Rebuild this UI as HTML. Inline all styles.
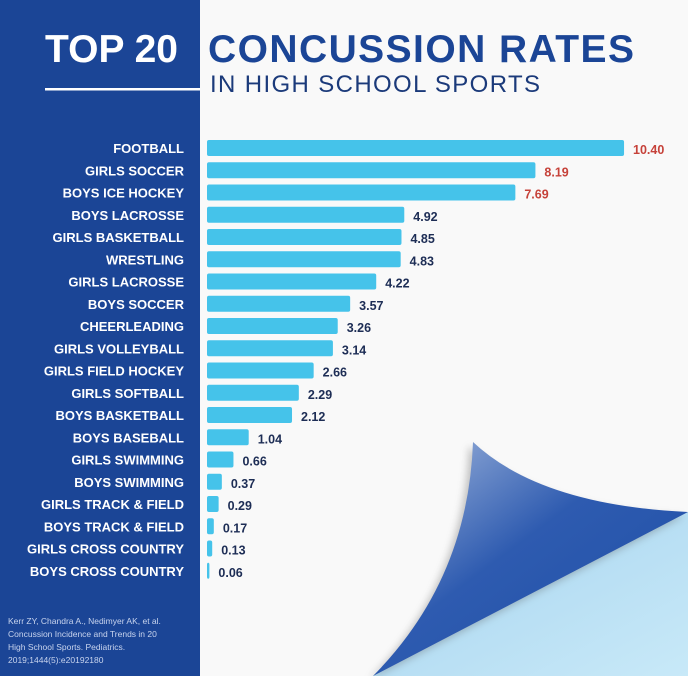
<!DOCTYPE html>
<html><head><meta charset="utf-8"><style>
html,body{margin:0;padding:0;background:#fff}
svg{display:block}
text{font-family:"Liberation Sans",sans-serif}
</style></head><body>
<svg id="chart" width="688" height="676" viewBox="0 0 688 676">
<defs>
<linearGradient id="curlG" x1="0" y1="0" x2="1" y2="1">
<stop offset="0" stop-color="#a9bde0"/><stop offset="0.45" stop-color="#2e5bb0"/><stop offset="1" stop-color="#1d4ea6"/></linearGradient>
<linearGradient id="underG" x1="0" y1="0" x2="1" y2="1">
<stop offset="0" stop-color="#7fb6dc"/><stop offset="0.5" stop-color="#b7def3"/><stop offset="1" stop-color="#c8e9f8"/></linearGradient>
<filter id="sh" x="-20%" y="-20%" width="140%" height="140%"><feGaussianBlur stdDeviation="4"/></filter>
</defs>
<rect x="0" y="0" width="688" height="676" fill="#f9f9f9"/>
<rect x="0" y="0" width="200" height="676" fill="#1b4596"/>
<rect x="45" y="88" width="155" height="2.5" fill="#fff"/>
<text x="45" y="62" font-size="39" font-weight="bold" fill="#fff">TOP 20</text>
<text x="208" y="62" font-size="39" font-weight="bold" fill="#1b4596" textLength="426">CONCUSSION RATES</text>
<text x="210" y="92" font-size="24" fill="#1b3a7a" textLength="330">IN HIGH SCHOOL SPORTS</text>
<g>
<path d="M373,676 L688,512 L688,676 Z" fill="url(#underG)"/>
<path d="M473,442 Q468,580 373,676 L688,512 Q540,505 473,442 Z" fill="#555" opacity="0.35" filter="url(#sh)" transform="translate(-4,4)"/>
<path d="M473,442 Q468,580 373,676 L688,512 Q540,505 473,442 Z" fill="url(#curlG)"/>
</g>
<g id="bars"></g>
<text x="8" y="624" font-size="8.5" fill="#c8d4ee">Kerr ZY, Chandra A., Nedimyer AK, et al.</text>
<text x="8" y="637" font-size="8.5" fill="#c8d4ee">Concussion Incidence and Trends in 20</text>
<text x="8" y="650" font-size="8.5" fill="#c8d4ee">High School Sports. Pediatrics.</text>
<text x="8" y="663" font-size="8.5" fill="#c8d4ee">2019;1444(5):e20192180</text>
</svg>
<script>
const categories=["FOOTBALL","GIRLS SOCCER","BOYS ICE HOCKEY","BOYS LACROSSE","GIRLS BASKETBALL","WRESTLING","GIRLS LACROSSE","BOYS SOCCER","CHEERLEADING","GIRLS VOLLEYBALL","GIRLS FIELD HOCKEY","GIRLS SOFTBALL","BOYS BASKETBALL","BOYS BASEBALL","GIRLS SWIMMING","BOYS SWIMMING","GIRLS TRACK & FIELD","BOYS TRACK & FIELD","GIRLS CROSS COUNTRY","BOYS CROSS COUNTRY"];
const values=[10.40,8.19,7.69,4.92,4.85,4.83,4.22,3.57,3.26,3.14,2.66,2.29,2.12,1.04,0.66,0.37,0.29,0.17,0.13,0.06];
const valueLabels=["10.40","8.19","7.69","4.92","4.85","4.83","4.22","3.57","3.26","3.14","2.66","2.29","2.12","1.04","0.66","0.37","0.29","0.17","0.13","0.06"];
const x0=207, pxPerUnit=40.1;
function xs(v){return x0+v*pxPerUnit;}
function ys(i){return 148+i*22.25;}
const g=document.getElementById('bars');
const NS="http://www.w3.org/2000/svg";
categories.forEach((c,i)=>{
  const y=ys(i);
  const r=document.createElementNS(NS,'rect');
  
  
  r.setAttribute('x',x0);r.setAttribute('y',y-8);
  r.setAttribute('width',Math.max(1,xs(values[i])-x0));r.setAttribute('height',16);
  r.setAttribute('rx',2);r.setAttribute('fill','#45c3ea');
  g.appendChild(r);
  const l=document.createElementNS(NS,'text');
  
  
  l.setAttribute('x',184);l.setAttribute('y',y+5);
  l.setAttribute('text-anchor','end');l.setAttribute('font-size','13');
  l.setAttribute('font-weight','bold');l.setAttribute('fill','#fff');
  l.textContent=c;g.appendChild(l);
  const v=document.createElementNS(NS,'text');
  
  
  v.setAttribute('x',xs(values[i])+9);v.setAttribute('y',y+6);
  v.setAttribute('font-size','12.5');v.setAttribute('font-weight','bold');
  v.setAttribute('fill',i<3?'#c6423a':'#1d2d55');
  v.textContent=valueLabels[i];g.appendChild(v);
});
</script>
</body></html>
